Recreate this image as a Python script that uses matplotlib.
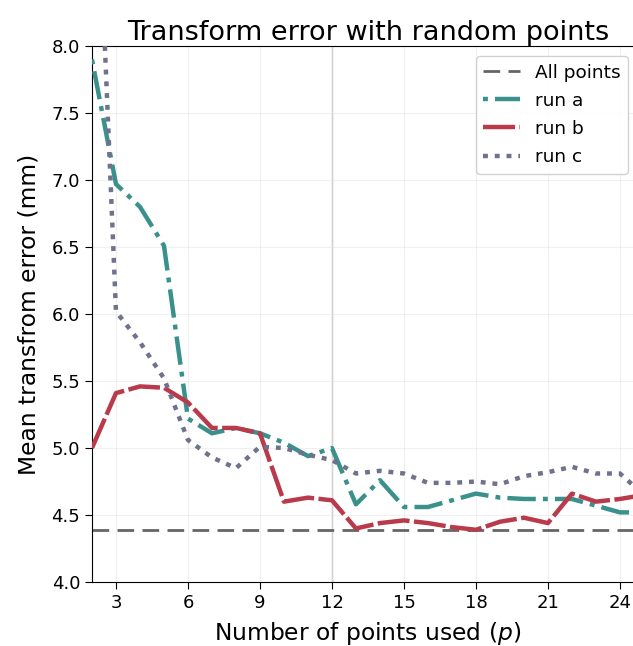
import matplotlib.pyplot as plt
import numpy as np

# points used per run
p = np.arange(2, 26)

run_a = [7.90, 6.97, 6.80, 6.51, 5.22, 5.11, 5.15, 5.11, 5.04, 4.94, 5.00, 4.58,
         4.76, 4.56, 4.56, 4.61, 4.66, 4.63, 4.62, 4.62, 4.62, 4.57, 4.52, 4.52]
run_b = [5.00, 5.41, 5.46, 5.45, 5.34, 5.15, 5.15, 5.11, 4.60, 4.63, 4.61, 4.40,
         4.44, 4.46, 4.44, 4.41, 4.39, 4.45, 4.48, 4.44, 4.66, 4.60, 4.62, 4.65]
run_c = [10.30, 6.02, 5.79, 5.52, 5.06, 4.93, 4.85, 5.01, 5.00, 4.95, 4.91, 4.81,
         4.83, 4.81, 4.74, 4.74, 4.75, 4.73, 4.79, 4.82, 4.86, 4.81, 4.81, 4.65]
all_points = 4.39

fig = plt.figure(figsize=(6.33, 6.46), dpi=100)
# axes run slightly past the right edge of the canvas
ax = fig.add_axes([0.1453, 0.099, 0.872, 0.8297])

ax.grid(True, color='#e6e6e6', linewidth=0.8, alpha=0.6)
ax.axvline(12, color='#b8b8b8', linewidth=1.0, zorder=1)

ax.axhline(all_points, color='#666666', linewidth=2.0, dashes=(6, 3), label='All points', zorder=2)
ax.plot(p, run_a, color='#3a918c', linewidth=3.2, dashes=(1.1, 1.6, 6.4, 1.6), label='run a', zorder=3)
ax.plot(p, run_b, color='#b83a4b', linewidth=3.2, dashes=(7.2, 1.0), label='run b', zorder=3)
ax.plot(p, run_c, color='#70718a', linewidth=3.2, dashes=(1.1, 1.55), label='run c', zorder=3)

ax.set_xlim(2, 25)
ax.set_ylim(4.0, 8.0)
ax.set_xticks([3, 6, 9, 12, 15, 18, 21, 24])
ax.set_yticks(np.arange(4.0, 8.01, 0.5))
ax.yaxis.set_major_formatter(plt.FormatStrFormatter('%.1f'))
ax.tick_params(labelsize=13, length=5)

ax.set_title('Transform error with random points', fontsize=19.5, pad=3)
ax.set_xlabel('Number of points used ($p$)', fontsize=16.8, labelpad=6)
ax.set_ylabel('Mean transfrom error (mm)', fontsize=16.8, labelpad=8)
ax.legend(loc='upper right', bbox_to_anchor=(0.971, 0.981), borderaxespad=0,
          fontsize=13.3, handlelength=2.0, labelspacing=0.55, framealpha=0.9)

fig.savefig('out.png', dpi=100)
